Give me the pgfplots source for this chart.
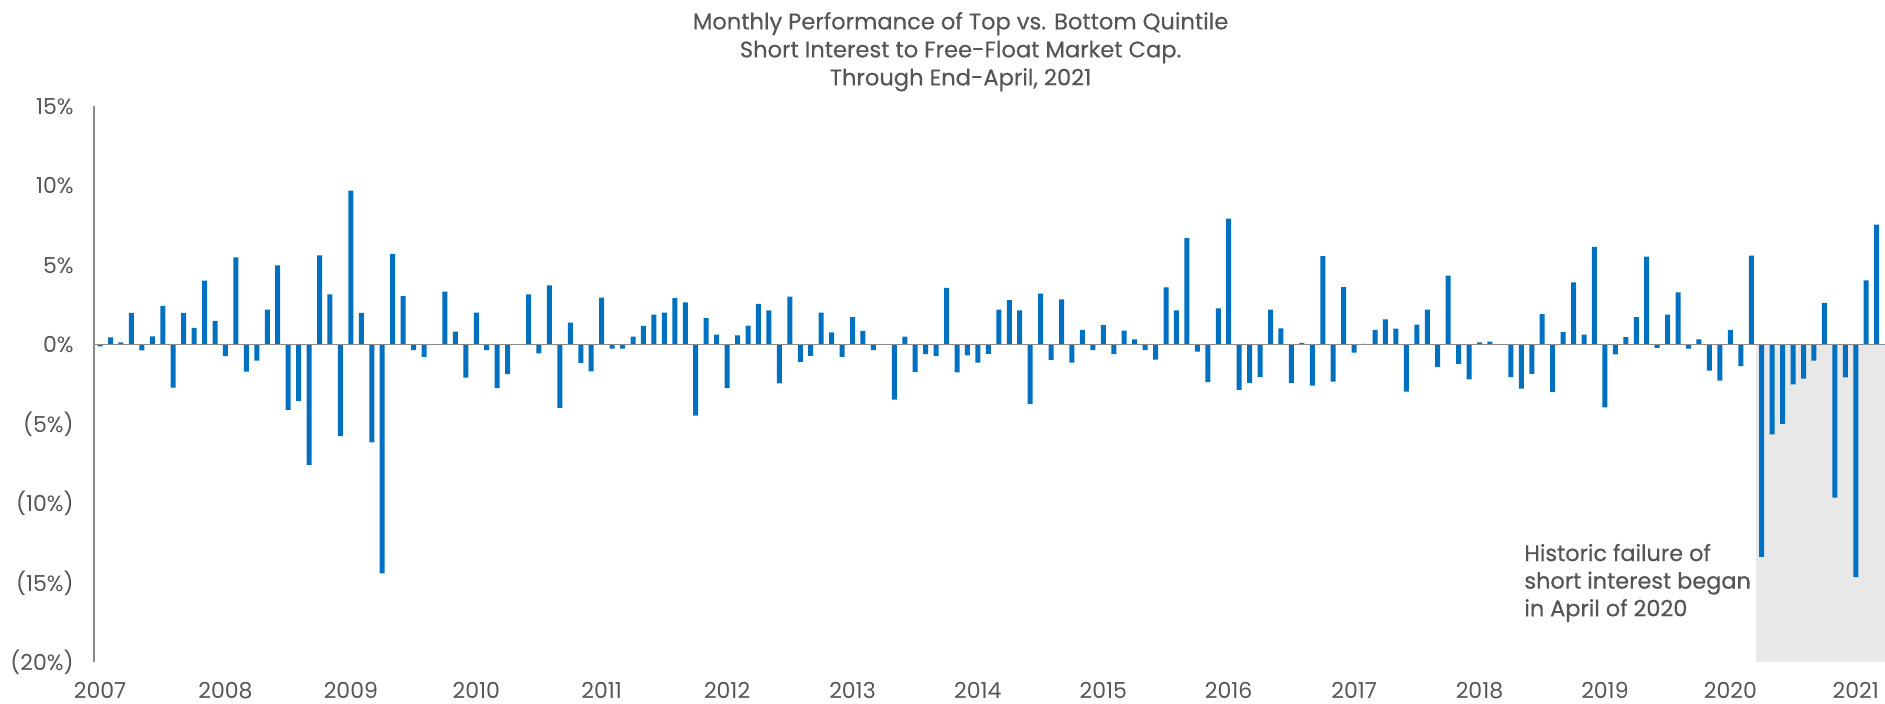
\documentclass[border=0pt]{standalone}
\usepackage{pgfplots}
\pgfplotsset{compat=1.18}
\usepackage{pgfplotstable}
\usepackage{fontspec}
\setmainfont{Poppins}
\definecolor{barblue}{HTML}{0070C0}
\definecolor{txtgray}{HTML}{555555}
\definecolor{axgray}{HTML}{8A8A8A}
\definecolor{shadegray}{HTML}{E8E8E8}
\pgfplotstableread{
x y
0 -0.10
1 0.46
2 0.15
3 2.00
4 -0.36
5 0.53
6 2.45
7 -2.70
8 2.00
9 1.06
10 4.04
11 1.50
12 -0.72
13 5.50
14 -1.70
15 -1.00
16 2.20
17 5.00
18 -4.10
19 -3.55
20 -7.57
21 5.63
22 3.17
23 -5.75
24 9.70
25 2.00
26 -6.15
27 -14.40
28 5.72
29 3.05
30 -0.34
31 -0.77
32 0.00
33 3.34
34 0.82
35 -2.07
36 2.02
37 -0.34
38 -2.74
39 -1.85
40 0.00
41 3.17
42 -0.55
43 3.73
44 -3.97
45 1.39
46 -1.15
47 -1.68
48 2.96
49 -0.24
50 -0.24
51 0.50
52 1.18
53 1.90
54 2.02
55 2.93
56 2.67
57 -4.47
58 1.68
59 0.63
60 -2.74
61 0.58
62 1.20
63 2.57
64 2.16
65 -2.43
66 3.03
67 -1.08
68 -0.70
69 2.02
70 0.77
71 -0.77
72 1.73
73 0.87
74 -0.34
75 0.00
76 -3.46
77 0.50
78 -1.73
79 -0.60
80 -0.70
81 3.58
82 -1.75
83 -0.67
84 -1.13
85 -0.58
86 2.21
87 2.81
88 2.16
89 -3.73
90 3.22
91 -0.96
92 2.86
93 -1.13
94 0.94
95 -0.34
96 1.23
97 -0.60
98 0.89
99 0.34
100 -0.34
101 -0.94
102 3.61
103 2.16
104 6.71
105 -0.43
106 -2.36
107 2.28
108 7.93
109 -2.84
110 -2.40
111 -2.04
112 2.21
113 1.03
114 -2.40
115 0.12
116 -2.57
117 5.58
118 -2.33
119 3.63
120 -0.50
121 0.05
122 0.94
123 1.59
124 1.01
125 -2.96
126 1.27
127 2.21
128 -1.42
129 4.35
130 -1.20
131 -2.19
132 0.14
133 0.19
134 0.00
135 -2.04
136 -2.76
137 -1.83
138 1.92
139 -2.97
140 0.81
141 3.93
142 0.64
143 6.16
144 -3.95
145 -0.61
146 0.47
147 1.74
148 5.55
149 -0.20
150 1.89
151 3.29
152 -0.25
153 0.34
154 -1.64
155 -2.26
156 0.93
157 -1.35
158 5.60
159 -13.35
160 -5.64
161 -4.98
162 -2.50
163 -2.13
164 -1.00
165 2.63
166 -9.62
167 -2.06
168 -14.63
169 4.05
170 7.56
}\datatable
\begin{document}
\begin{tikzpicture}
\path[use as bounding box] (-46.9pt,-20.3pt) rectangle (895.6pt,331.2pt);
\begin{axis}[
  at={(0,0)}, anchor=south west,
  scale only axis,
  width=895.6pt, height=278pt,
  xmin=-0.6, xmax=170.8,
  ymin=-20, ymax=15,
  axis lines*=left,
  x axis line style={draw=none},
  y axis line style={draw=axgray, line width=1pt},
  ytick={-20,-15,-10,-5,0,5,10,15},
  yticklabels={{(20\%)},{(15\%)},{(10\%)},{(5\%)},{0\%},{5\%},{10\%},{15\%}},
  xtick={0,12,24,36,48,60,72,84,96,108,120,132,144,156,168},
  xticklabels={2007,2008,2009,2010,2011,2012,2013,2014,2015,2016,2017,2018,2019,2020,2021},
  major tick length=0pt,
  tick style={draw=none},
  /pgf/number format/assume math mode=true,
  ticklabel style={font=\fontsize{11}{13}\selectfont, text=txtgray, inner sep=0pt},
  yticklabel style={anchor=east, xshift=-9.9pt},
  xticklabel style={anchor=north, yshift=-9.6pt},
  ybar, bar width=2.5pt,
  clip=false,
]
\fill[shadegray] (axis cs:158.5,0) rectangle (axis cs:170.8,-20);
\addplot[fill=barblue, draw=none] table[x=x,y=y] {\datatable};
\draw[axgray, line width=0.8pt] (axis cs:-0.6,0) -- (axis cs:170.8,0);
\end{axis}
\node[anchor=center, align=center, text=txtgray, font=\fontsize{11.3}{14}\selectfont\addfontfeature{FakeBold=0.3}] at (433.4pt,305.3pt)
  {Monthly Performance of Top vs. Bottom Quintile\\Short Interest to Free-Float Market Cap.\\Through End-April, 2021};
\node[anchor=west, align=left, text=txtgray, inner sep=0pt, font=\fontsize{11.2}{13.8}\selectfont\addfontfeature{FakeBold=0.5}] at (715.1pt,39.7pt)
  {Historic failure of\\short interest began\\in April of 2020};
\end{tikzpicture}
\end{document}
